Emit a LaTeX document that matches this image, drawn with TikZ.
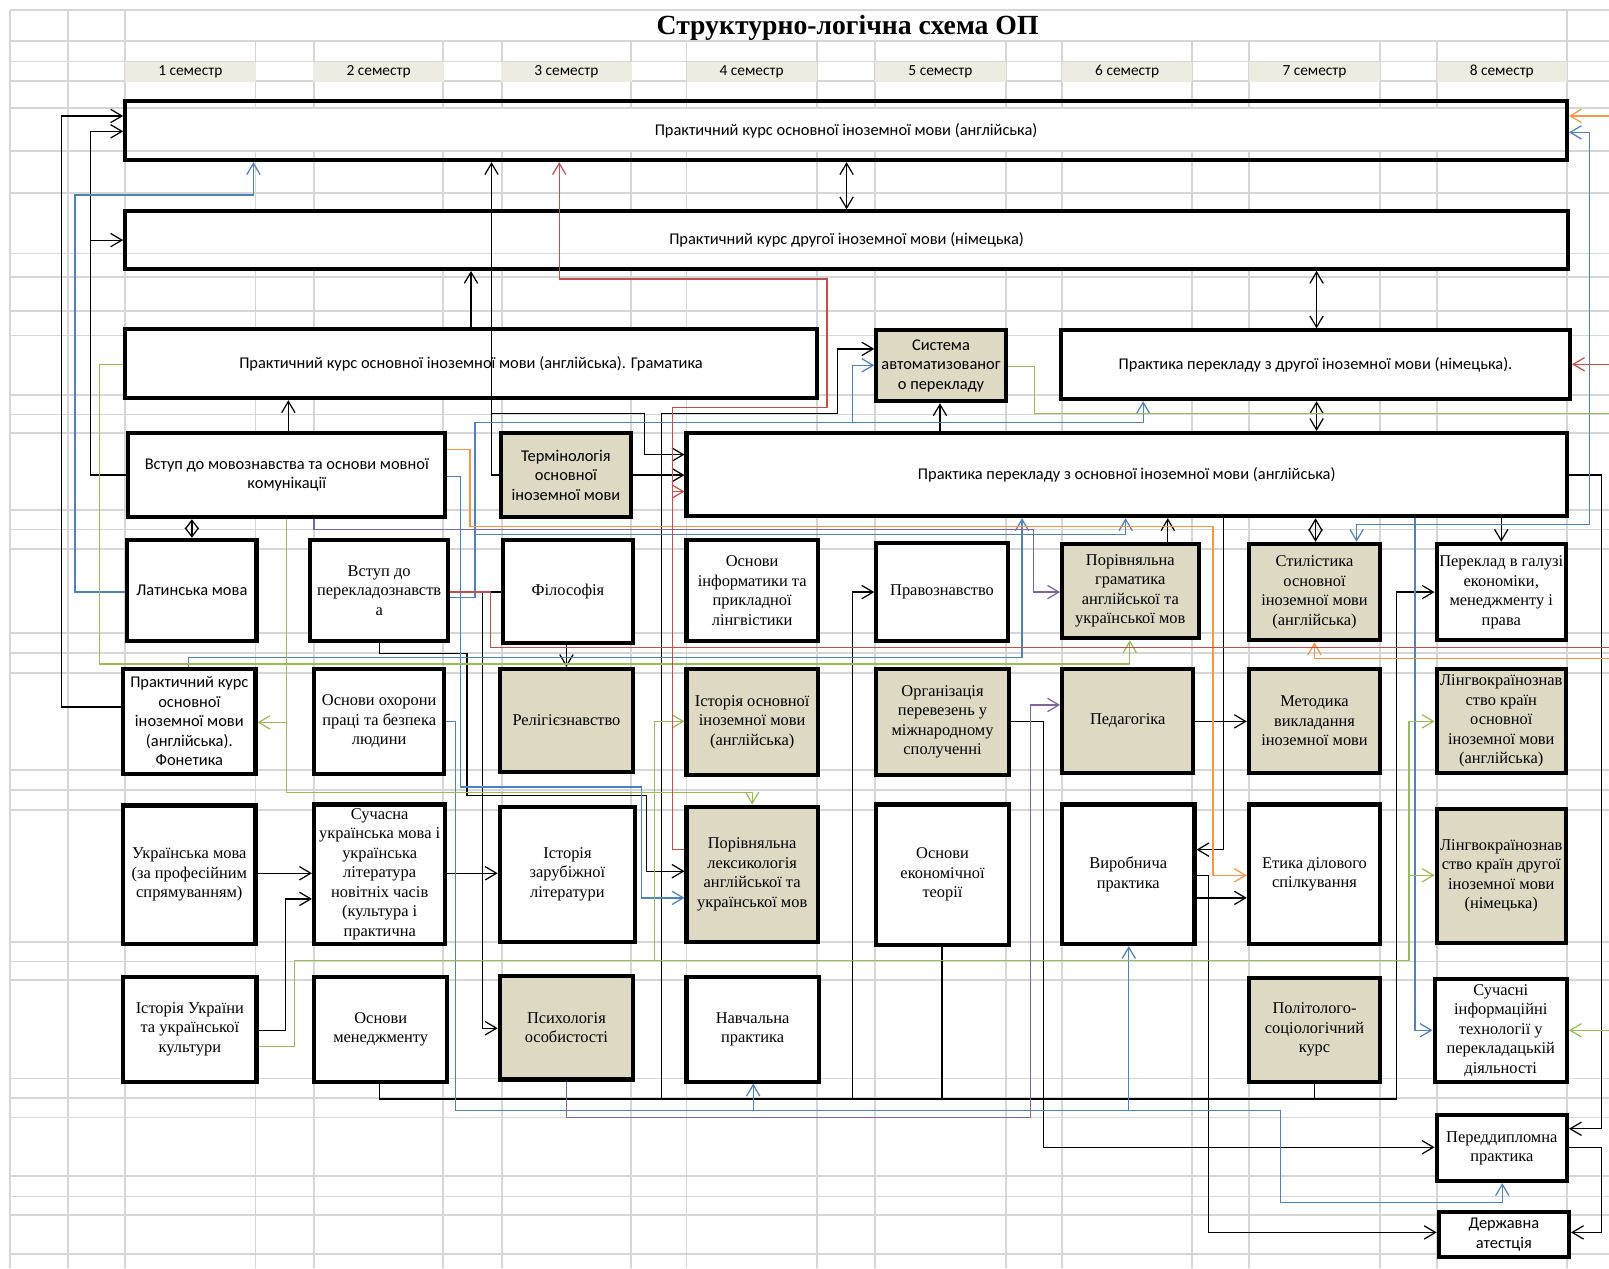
\documentclass[tikz,border=0pt]{standalone}
\usepackage{fontspec}
\setmainfont{Liberation Serif}
\newfontfamily\calfont{Carlito}
\usetikzlibrary{arrows.meta}
\definecolor{beige}{HTML}{DDD9C3}
\definecolor{semfill}{HTML}{EEECE1}
\definecolor{gridc}{HTML}{D6D6D6}
\definecolor{cblue}{HTML}{4F81BD}
\definecolor{cred}{HTML}{C0504D}
\definecolor{cgreen}{HTML}{9BBB59}
\definecolor{corange}{HTML}{F79646}
\definecolor{cpurple}{HTML}{8064A2}
\tikzset{
  box/.style={draw=black, line width=2pt, fill=white, inner sep=1pt, align=center, font=\fontsize{8}{9.5}\selectfont},
  sbox/.style={box, font=\calfont\fontsize{8}{9.5}\selectfont},
  bg/.style={fill=beige},
  nofill/.style={fill=none},
  con/.style={line width=0.6pt},
  arr/.style={con, -{Straight Barb[length=5.5pt,width=6.5pt]}},
  darr/.style={con, {Straight Barb[length=5.5pt,width=6.5pt]}-{Straight Barb[length=5.5pt,width=6.5pt]}},
  sdarr/.style={con, {Straight Barb[length=4.3pt,width=6.5pt]}-{Straight Barb[length=4.3pt,width=6.5pt]}},
  semlab/.style={fill=semfill, minimum width=63.5pt, minimum height=9.5pt, inner sep=0pt, font=\calfont\fontsize{7.5}{9}\selectfont},
  gridline/.style={draw=gridc, line width=0.9pt},
}
\newcommand\mkbox[7]{\node[#6, minimum width={(#4-#2)*0.5pt}, minimum height={(#5-#3)*0.5pt}] (#1) at ({(#2+#4)/2},{(#3+#5)/2}) {#7};}
\begin{document}
\begin{tikzpicture}[x=0.5pt,y=-0.5pt]
\useasboundingbox (0,0) rectangle (1568,1236);
\clip (0,0) rectangle (1568,1236);
\fill[white] (0,0) rectangle (1568,1236);
% grid
\foreach \x in {10,66,122,1527} \draw[gridline] (\x,10) -- (\x,1236);
\foreach \x in {249,306,432,489,615,669,796,853,980,1035,1162,1217,1345,1400} \draw[gridline] (\x,40) -- (\x,1236);
\fill[white] (124,105) rectangle (1525,147);
\fill[white] (124,208) rectangle (1526,260);
\foreach \y in {10,40,60,79,105,147,188,247,270,303,327,385,404,422,497,516,535,617,636,656,750,770,789,918,937,955,1051,1070,1089,1146,1166,1184,1222} \draw[gridline] (10,\y) -- (1568,\y);
% title and semesters
\node[font=\bfseries\fontsize{13.5}{16}\selectfont] (title) at (826,27) {Структурно-логічна схема ОП};
\node[semlab] (s1) at (185.5,70) {1 семестр};
\node[semlab] (s2) at (369,70) {2 семестр};
\node[semlab] (s3) at (552,70) {3 семестр};
\node[semlab] (s4) at (732.5,70) {4 семестр};
\node[semlab] (s5) at (916.5,70) {5 семестр};
\node[semlab] (s6) at (1098.5,70) {6 семестр};
\node[semlab] (s7) at (1281,70) {7 семестр};
\node[semlab] (s8) at (1463.5,70) {8 семестр};
% boxes
\mkbox{B1}{122}{98}{1527}{156}{sbox,nofill}{Практичний курс основної іноземної мови (англійська)}
\mkbox{B2}{122}{206}{1528}{262}{sbox,nofill}{Практичний курс другої іноземної мови (німецька)}
\mkbox{gram}{122}{321}{796}{388}{sbox}{Практичний курс основної іноземної мови (англійська). Граматика}
\mkbox{sap}{854}{322}{980}{391}{sbox,bg}{Система\\автоматизованог\\о перекладу}
\mkbox{pnim}{1034}{322}{1530}{389}{sbox}{Практика перекладу з другої іноземної мови (німецька).}
\mkbox{vstmov}{125}{422}{434}{504}{sbox}{Вступ до мовознавства та основи мовної\\комунікації}
\mkbox{term}{488}{422}{615}{504}{sbox,bg}{Термінологія\\основної\\іноземної мови}
\mkbox{peng}{669}{422}{1527}{503}{sbox}{Практика перекладу з основної іноземної мови (англійська)}
\mkbox{lat}{124}{526}{250}{625}{sbox}{Латинська мова}
\mkbox{vstper}{302}{526}{437}{625}{box}{Вступ до\\перекладознавств\\а}
\mkbox{fil}{490}{526}{617}{627}{box}{Філософія}
\mkbox{osinf}{669}{526}{797}{625}{box}{Основи\\інформатики та\\прикладної\\лінгвістики}
\mkbox{prav}{854}{529}{982}{625}{box}{Правознавство}
\mkbox{pgram}{1035}{530}{1168}{622}{box,bg}{Порівняльна\\граматика\\англійської та\\української мов}
\mkbox{stil}{1217}{530}{1345}{624}{box,bg}{Стилістика\\основної\\іноземної мови\\(англійська)}
\mkbox{pergal}{1400}{530}{1526}{624}{box}{Переклад в галузі\\економіки,\\менеджменту і\\права}
\mkbox{phon}{120}{652}{249}{754}{sbox}{Практичний курс\\основної\\іноземної мови\\(англійська).\\Фонетика}
\mkbox{ohor}{306}{652}{433}{754}{box}{Основи охорони\\праці та безпека\\людини}
\mkbox{relig}{487}{652}{617}{752}{box,bg}{Релігієзнавство}
\mkbox{istosn}{669}{652}{797}{755}{box,bg}{Історія основної\\іноземної мови\\(англійська)}
\mkbox{org}{854}{652}{983}{755}{box,bg}{Організація\\перевезень у\\міжнародному\\сполученні}
\mkbox{ped}{1035}{652}{1163}{753}{box,bg}{Педагогіка}
\mkbox{metod}{1217}{652}{1345}{753}{box,bg}{Методика\\викладання\\іноземної мови}
\mkbox{lkosn}{1400}{652}{1526}{753}{box,bg}{Лінгвокраїнознав\\ство країн\\основної\\іноземної мови\\(англійська)}
\mkbox{ukr}{120}{785}{249}{920}{box}{Українська мова\\(за професійним\\спрямуванням)}
\mkbox{sucas}{306}{784}{434}{920}{box}{Сучасна\\українська мова і\\українська\\література\\новітніх часів\\(культура і\\практична}
\mkbox{istzar}{487}{786}{619}{918}{box}{Історія\\зарубіжної\\літератури}
\mkbox{plex}{669}{786}{797}{918}{box,bg}{Порівняльна\\лексикологія\\англійської та\\української мов}
\mkbox{osek}{854}{784}{983}{921}{box}{Основи\\економічної\\теорії}
\mkbox{vyrob}{1035}{784}{1164}{920}{box}{Виробнича\\практика}
\mkbox{etyka}{1217}{784}{1345}{920}{box}{Етика ділового\\спілкування}
\mkbox{lknim}{1400}{788}{1526}{919}{box,bg}{Лінгвокраїнознав\\ство країн другої\\іноземної мови\\(німецька)}
\mkbox{istukr}{120}{952}{250}{1054}{box}{Історія України\\та української\\культури}
\mkbox{osmen}{306}{952}{436}{1054}{box}{Основи\\менеджменту}
\mkbox{psych}{487}{951}{617}{1052}{box,bg}{Психологія\\особистості}
\mkbox{navch}{669}{952}{798}{1054}{box}{Навчальна\\практика}
\mkbox{polit}{1217}{953}{1345}{1054}{box,bg}{Політолого-\\соціологічний\\курс}
\mkbox{suchit}{1398}{954}{1527}{1054}{box}{Сучасні\\інформаційні\\технології у\\перекладацькій\\діяльності}
\mkbox{pered}{1400}{1087}{1527}{1151}{box}{Переддипломна\\практика}
\mkbox{derzh}{1402}{1181}{1529}{1225}{sbox}{Державна\\атестція}
% junction coordinates
\coordinate (jA) at (88,234);
\coordinate (jg1) at (279,704);
\coordinate (jg2) at (1373,853);
\coordinate (jg3) at (638,936);
\coordinate (jr1) at (655,479);
\coordinate (jb1) at (734,1082);
\coordinate (jb2) at (1100,1082);
\coordinate (jb3) at (831,412);
\coordinate (jb4) at (463,521);
\coordinate (jk1) at (479,403);
\coordinate (jm1) at (645,1071);
\coordinate (jm2) at (831,1071);
\coordinate (jm3) at (918,1071);
\coordinate (jm4) at (1281,1071);
% black connectors
\draw[arr] (phon.west |- 0,689) -- (60,689) -- (60,113) -- (B1.west |- 0,113);
\draw[arr] (vstmov.west |- 0,463) -- (88,463) -- (88,128) -- (B1.west |- 0,128);
\draw[arr] (jA) -- (B2.west |- 0,234);
\draw[arr] (vstper.south -| 370,0) -- (370,637) -- (455,637) -- (455,775) -- (630,775) -- (630,849) -- (plex.west |- 0,849);
\draw[arr] (term.west |- 0,463) -- (479,463) -- (B1.south -| 479,0);
\draw[arr] (jk1) -- (628,403) -- (628,443) -- (peng.west |- 0,443);
\draw[arr] (term.east |- 0,463) -- (peng.west |- 0,463);
\draw[arr] (gram.north -| 459,0) -- (B2.south -| 459,0);
\draw[arr] (vstmov.north -| 281,0) -- (gram.south -| 281,0);
\draw[sdarr] (vstmov.south -| 187,0) -- (lat.north -| 187,0);
\draw[darr] (B1.south -| 825,0) -- (B2.north -| 825,0);
\draw[darr] (B2.south -| 1283,0) -- (pnim.north -| 1283,0);
\draw[darr] (pnim.south -| 1283,0) -- (peng.north -| 1283,0);
\draw[darr] (peng.south -| 1282,0) -- (stil.north -| 1282,0);
\draw[arr] (peng.south -| 1463,0) -- (pergal.north -| 1463,0);
\draw[arr] (peng.east |- 0,463) -- (1561,463) -- (1561,1100) -- (pered.east |- 0,1100);
\draw[arr] (pered.east |- 0,1118) -- (1561,1118) -- (1561,1201) -- (derzh.east |- 0,1201);
\draw[arr] (vyrob.east |- 0,853) -- (1178,853) -- (1178,1201) -- (derzh.west |- 0,1201);
\draw[arr] (vyrob.east |- 0,875) -- (etyka.west |- 0,875);
\draw[arr] (peng.south -| 1192,0) -- (1192,828) -- (vyrob.east |- 0,828);
\draw[arr] (ped.east |- 0,703) -- (metod.west |- 0,703);
\draw[arr] (org.east |- 0,703) -- (1017,703) -- (1017,1118) -- (pered.west |- 0,1118);
\draw[arr] (osmen.south -| 370,0) -- (370,1071) -- (1361,1071) -- (1361,577) -- (pergal.west |- 0,577);
\draw[arr] (jm1) -- (645,403) -- (816,403) -- (816,340) -- (sap.west |- 0,340);
\draw[arr] (jm2) -- (831,577) -- (prav.west |- 0,577);
\draw[con] (osek.south -| 918,0) -- (jm3);
\draw[con] (polit.south -| 1281,0) -- (jm4);
\draw[arr] (fil.west |- 0,577) -- (470,577) -- (470,1002) -- (psych.west |- 0,1002);
\draw[arr] (fil.south -| 552,0) -- (relig.north -| 552,0);
\draw[arr] (ukr.east |- 0,851) -- (sucas.west |- 0,851);
\draw[arr] (istukr.east |- 0,1004) -- (278,1004) -- (278,876) -- (sucas.west |- 0,876);
\draw[arr] (sucas.east |- 0,851) -- (istzar.west |- 0,851);
\draw[arr] (peng.north -| 916,0) -- (sap.south -| 916,0);
\draw[arr] (pgram.north -| 1138,0) -- (peng.south -| 1138,0);
% blue
\draw[arr, cblue] (lat.west |- 0,577) -- (73,577) -- (73,190) -- (247,190) -- (B1.south -| 247,0);
\draw[arr, cblue] (phon.north -| 184,0) -- (184,641) -- (996,641) -- (peng.south -| 996,0);
\draw[arr, cblue] (vstmov.east |- 0,464) -- (449,464) -- (449,767) -- (625,767) -- (625,875) -- (plex.west |- 0,875);
\draw[arr, cblue] (ohor.east |- 0,703) -- (444,703) -- (444,1082) -- (1248,1082) -- (1248,1172) -- (1464,1172) -- (pered.south -| 1464,0);
\draw[arr, cblue] (jb1) -- (navch.south -| 734,0);
\draw[arr, cblue] (jb2) -- (vyrob.south -| 1100,0);
\draw[arr, cblue] (vstper.east |- 0,582) -- (463,582) -- (463,412) -- (831,412) -- (831,356) -- (sap.west |- 0,356);
\draw[arr, cblue] (jb3) -- (1114,412) -- (pnim.south -| 1114,0);
\draw[arr, cblue] (jb4) -- (1097,521) -- (peng.south -| 1097,0);
\draw[darr, cblue] (B1.east |- 0,129) -- (1549,129) -- (1549,511) -- (1322,511) -- (stil.north -| 1322,0);
\draw[arr, cblue] (peng.south -| 1379,0) -- (1379,1004) -- (suchit.west |- 0,1004);
% green
\draw[arr, cgreen] (gram.west |- 0,355) -- (97,355) -- (97,647) -- (1101,647) -- (pgram.south -| 1101,0);
\draw[arr, cgreen] (vstmov.south -| 279,0) -- (279,772) -- (733,772) -- (plex.north -| 733,0);
\draw[arr, cgreen] (jg1) -- (phon.east |- 0,704);
\draw[arr, cgreen] (istukr.east |- 0,1020) -- (287,1020) -- (287,936) -- (1373,936) -- (1373,703) -- (lkosn.west |- 0,703);
\draw[arr, cgreen] (jg2) -- (lknim.west |- 0,853);
\draw[arr, cgreen] (jg3) -- (638,703) -- (istosn.west |- 0,703);
\draw[arr, cgreen] (sap.east |- 0,357) -- (1008,357) -- (1008,403) -- (1590,403) -- (1590,1004) -- (suchit.east |- 0,1004);
% orange
\draw[arr, corange] (vstmov.east |- 0,438) -- (458,438) -- (458,513) -- (1182,513) -- (1182,853) -- (etyka.west |- 0,853);
\draw[darr, corange] (B1.east |- 0,113) -- (1595,113) -- (1595,642) -- (1281,642) -- (stil.south -| 1281,0);
% red
\draw[arr, cred] (plex.west |- 0,828) -- (655,828) -- (655,397) -- (806,397) -- (806,272) -- (545,272) -- (B1.south -| 545,0);
\draw[arr, cred] (jr1) -- (peng.west |- 0,479);
\draw[arr, cred] (vstper.east |- 0,577) -- (478,577) -- (478,631) -- (1600,631) -- (1600,355) -- (pnim.east |- 0,355);
% purple
\draw[arr, cpurple] (vstmov.south -| 306,0) -- (306,516) -- (1007,516) -- (1007,577) -- (pgram.west |- 0,577);
\draw[arr, cpurple] (psych.south -| 552,0) -- (552,1089) -- (1004,1089) -- (1004,687) -- (ped.west |- 0,687);
\end{tikzpicture}
\end{document}
